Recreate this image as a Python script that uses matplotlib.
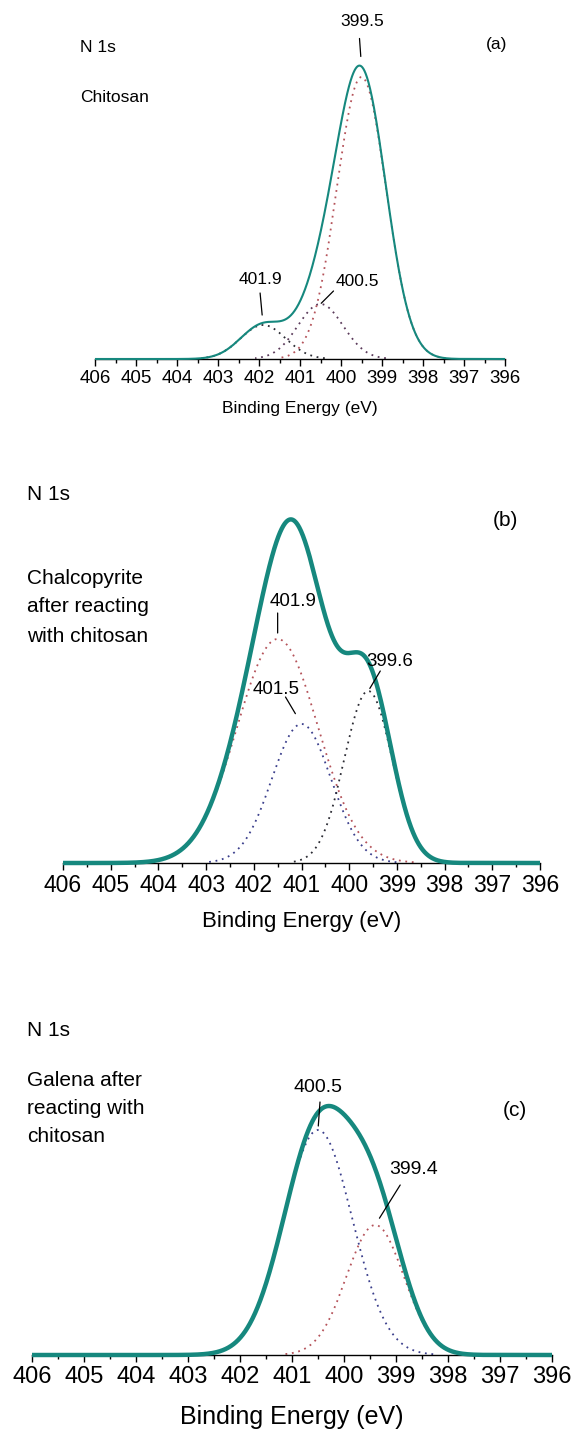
import numpy as np
import matplotlib.pyplot as plt

plt.rcParams['font.family'] = ['Liberation Sans', 'DejaVu Sans']

# binding energy grid (eV)
be = np.linspace(396, 406, 2001)

# (a) chitosan, N 1s components
a_centers = [401.9, 400.5, 399.5]
a_heights = [34, 55, 282]
a_sigmas = [0.55, 0.55, 0.60]
a_labels = ['401.9', '400.5', '399.5']

# (b) chalcopyrite after reacting with chitosan
b_centers = [401.5, 401.0, 399.6]
b_heights = [224, 139, 172]
b_sigmas = [0.85, 0.62, 0.50]
b_labels = ['401.9', '401.5', '399.6']

# (c) galena after reacting with chitosan
c_centers = [400.5, 399.4]
c_heights = [225, 130]
c_sigmas = [0.66, 0.55]
c_labels = ['400.5', '399.4']

teal = '#16887e'
red = '#b5535a'
navy = '#3b3f8c'
dark = '#2b2b33'

W, H = 578, 1437
fig = plt.figure(figsize=(W / 100, H / 100), dpi=100)


def gauss(c, h, s):
    return h * np.exp(-0.5 * ((be - c) / s) ** 2)


def panel(x406, x396, base, top, fs):
    ax = fig.add_axes([x406 / W, 1 - base / H, (x396 - x406) / W, (base - top) / H])
    ax.set_xlim(406, 396)
    ax.set_ylim(0, base - top)
    for side in ['top', 'left', 'right']:
        ax.spines[side].set_visible(False)
    ax.spines['bottom'].set_linewidth(1.0)
    ax.set_yticks([])
    ax.set_xticks(np.arange(396, 407, 1))
    ax.set_xticks(np.arange(396.5, 406, 1), minor=True)
    ax.tick_params(axis='x', which='major', direction='out', length=5, width=1, labelsize=fs, pad=3)
    ax.tick_params(axis='x', which='minor', direction='out', length=3, width=1)
    ax.patch.set_alpha(0)
    return ax


def draw(ax, centers, heights, sigmas, colors, lw):
    comps = [gauss(c, h, s) for c, h, s in zip(centers, heights, sigmas)]
    for comp, col in zip(comps, colors):
        y = np.where(comp > 0.8, comp, np.nan)
        ax.plot(be, y, color=col, ls=(0, (1, 2.6)), lw=1.3, zorder=2)
    env = np.sum(comps, axis=0)
    ax.plot(be, env, color=teal, lw=lw, zorder=3, clip_on=False,
            solid_capstyle='butt')
    return env


def callout(ax, x, y, text, txt_off, line_off, gap, fs):
    ax.annotate(text, xy=(x, y), xytext=txt_off, textcoords='offset pixels',
                ha='center', va='center', fontsize=fs, annotation_clip=False)
    ax.annotate('', xy=(x, y), xytext=line_off, textcoords='offset pixels',
                annotation_clip=False,
                arrowprops=dict(arrowstyle='-', color='black', lw=0.9,
                                shrinkA=0, shrinkB=gap * 0.72))


def ftext(x, y, s, fs, ha='left'):
    fig.text(x / W, 1 - y / H, s, fontsize=fs, ha=ha, va='center')


# ---- panel (a)
ax1 = panel(95, 505, 359, 30, 13.5)
env_a = draw(ax1, a_centers, a_heights, a_sigmas, [dark, '#5a3a5a', red], 1.5)
callout(ax1, a_centers[2], np.interp(a_centers[2], be, env_a), a_labels[2], (1, 45), (-2, 28), 10, 12.5)
callout(ax1, a_centers[0], a_heights[0], a_labels[0], (-3, 45), (-3, 32), 10, 12.5)
callout(ax1, a_centers[1], a_heights[1], a_labels[1], (37, 23), (13, 13), 1, 12.5)
ax1.set_xlabel('Binding Energy (eV)', fontsize=12.5, labelpad=10)
ftext(80, 47, 'N 1s', 12.5)
ftext(80, 98, 'Chitosan', 12.5)
ftext(497, 45, '(a)', 12.5, ha='center')

# ---- panel (b)
ax2 = panel(63, 540, 863, 490, 16.5)
env_b = draw(ax2, b_centers, b_heights, b_sigmas, [red, navy, dark], 3.2)
callout(ax2, b_centers[0], b_heights[0], b_labels[0], (15, 38), (0, 26), 6, 13.5)
callout(ax2, b_centers[1], b_heights[1], b_labels[1], (-25, 35), (-16, 27), 12, 13.5)
callout(ax2, b_centers[2], b_heights[2], b_labels[2], (22, 30), (12, 20), 3, 13.5)
ax2.set_xlabel('Binding Energy (eV)', fontsize=16, labelpad=10)
ftext(27, 495, 'N 1s', 15)
ftext(27, 578, 'Chalcopyrite', 15)
ftext(27, 607, 'after reacting', 15)
ftext(27, 636, 'with chitosan', 15)
ftext(505, 520, '(b)', 15, ha='center')

# ---- panel (c)
ax3 = panel(32, 552, 1355, 1080, 17)
env_c = draw(ax3, c_centers, c_heights, c_sigmas, [navy, red], 3.2)
callout(ax3, c_centers[0], c_heights[0], c_labels[0], (0, 42), (2, 28), 4, 14)
callout(ax3, c_centers[1], c_heights[1], c_labels[1], (38, 55), (25, 40), 8, 14)
ax3.set_xlabel('Binding Energy (eV)', fontsize=18, labelpad=12)
ftext(27, 1030, 'N 1s', 15)
ftext(27, 1080, 'Galena after', 15)
ftext(27, 1108, 'reacting with', 15)
ftext(27, 1137, 'chitosan', 15)
ftext(515, 1110, '(c)', 15, ha='center')

fig.savefig('out.png', dpi=100)
